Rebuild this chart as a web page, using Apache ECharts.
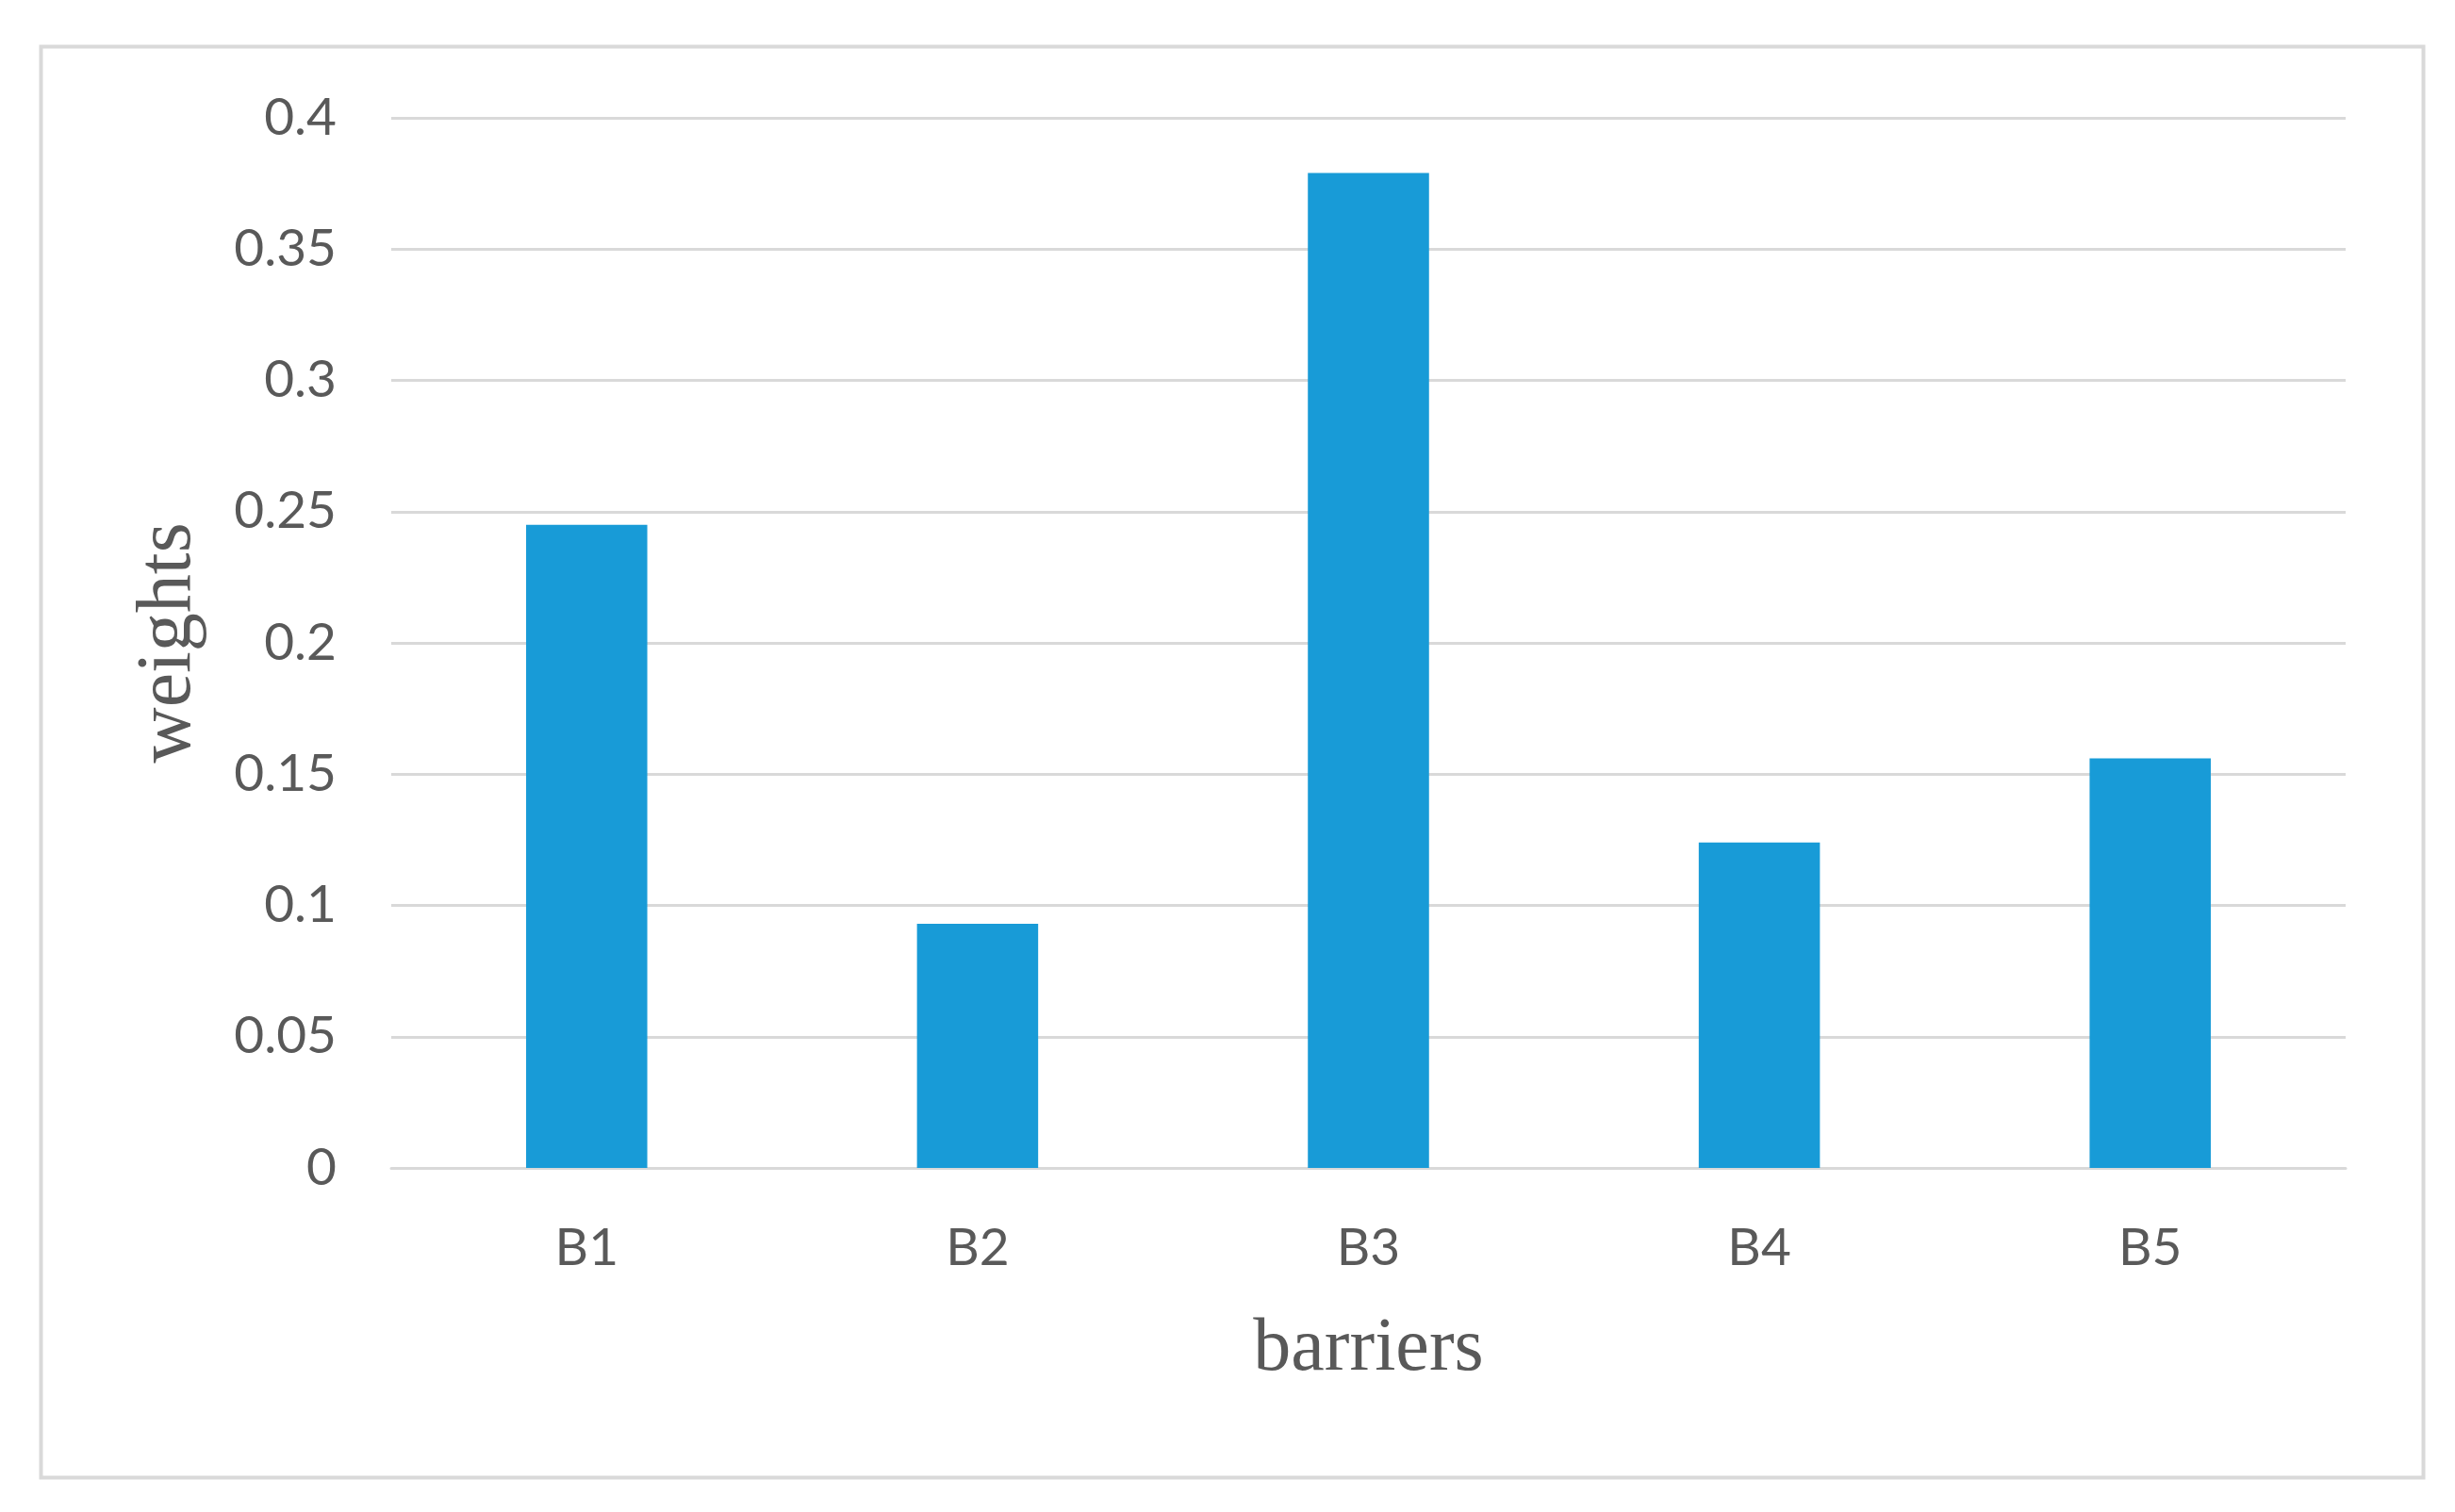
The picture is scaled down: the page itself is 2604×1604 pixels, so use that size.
<!DOCTYPE html>
<html>
<head>
<meta charset="utf-8">
<title>weights of barriers</title>
<script src="https://cdn.jsdelivr.net/npm/echarts@6/dist/echarts.min.js"></script>
<style>
  html, body { margin: 0; padding: 0; background: #fff; }
  #barChart { width: 2604px; height: 1604px; }
</style>
</head>
<body>
<div id="barChart"></div>
<script>
var categories = ['B1', 'B2', 'B3', 'B4', 'B5'];
var weights = [0.245, 0.093, 0.379, 0.124, 0.156];
var yTicks = [0, 0.05, 0.1, 0.15, 0.2, 0.25, 0.3, 0.35, 0.4];

(function () {
    var dom = document.getElementById("barChart");
    var myChart = echarts.init(dom);

    var option = {
        backgroundColor: '#fff',
        animation: false,
        // outer frame of the figure
        graphic: [{
            type: 'rect',
            left: 41,
            top: 47,
            shape: { width: 2527, height: 1518 },
            style: { fill: 'none', stroke: '#d9d9d9', lineWidth: 4 },
            silent: true
        }],
        grid: {
            left: 415,
            right: 116,
            top: 125,
            bottom: 365
        },
        xAxis: {
            type: 'category',
            data: categories,
            name: 'barriers',
            nameLocation: 'middle',
            nameGap: 153,
            nameTextStyle: {
                fontFamily: 'Liberation Serif',
                fontSize: 80,
                color: '#595959'
            },
            axisTick: { show: false },
            axisLine: {
                lineStyle: { color: '#d9d9d9', width: 3 }
            },
            axisLabel: {
                margin: 58,
                fontFamily: 'Lato',
                fontSize: 55,
                color: '#595959'
            }
        },
        yAxis: {
            type: 'value',
            min: yTicks[0],
            max: yTicks[yTicks.length - 1],
            interval: 0.05,
            name: 'weights',
            nameLocation: 'middle',
            nameGap: 195,
            nameRotate: 90,
            nameTextStyle: {
                fontFamily: 'Liberation Serif',
                fontSize: 82,
                color: '#595959'
            },
            axisLine: { show: false },
            axisTick: { show: false },
            axisLabel: {
                margin: 58,
                fontFamily: 'Lato',
                fontSize: 55,
                color: '#595959',
                formatter: function (v) { return String(+v.toFixed(2)); }
            },
            splitLine: {
                show: true,
                lineStyle: { color: '#d9d9d9', width: 3 }
            }
        },
        series: [{
            type: 'bar',
            data: weights,
            barWidth: '31%',
            itemStyle: { color: '#189bd7' }
        }]
    };

    if (option && typeof option === 'object') {
        myChart.setOption(option);
    }

    window.addEventListener("resize", function () {
        myChart.resize();
    });
})();
</script>
</body>
</html>
